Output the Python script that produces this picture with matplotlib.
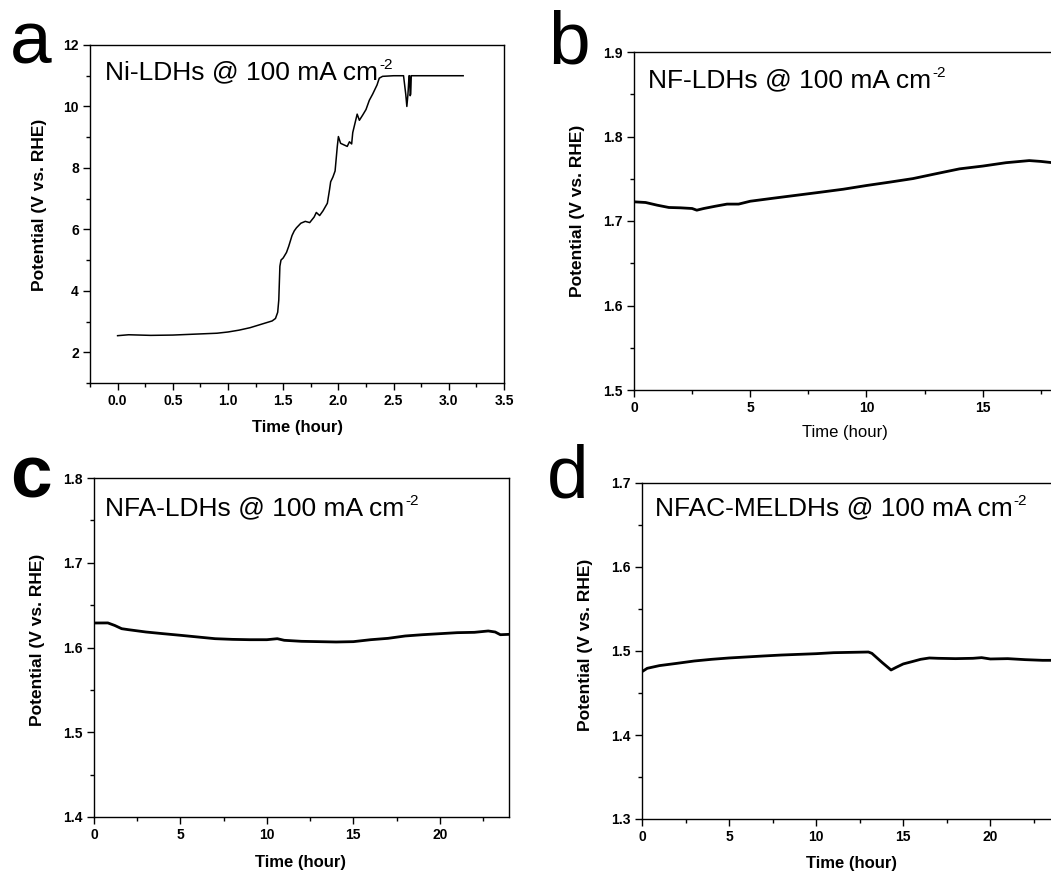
import matplotlib
matplotlib.use("Agg")
import matplotlib.pyplot as plt
from matplotlib.ticker import MultipleLocator

plt.rcParams['font.family'] = ['Liberation Sans', 'DejaVu Sans']

# ---------------- data ----------------
t_a = [0.00, 0.10, 0.30, 0.50, 0.70, 0.90, 1.00, 1.10, 1.20, 1.30, 1.40, 1.43,
       1.45, 1.46, 1.47, 1.48, 1.50, 1.53, 1.55, 1.58, 1.60, 1.62, 1.66, 1.70,
       1.74, 1.78, 1.80, 1.83, 1.86, 1.90, 1.92, 1.93, 1.95, 1.97, 1.99, 2.00,
       2.02, 2.05, 2.08, 2.10, 2.12, 2.13, 2.15, 2.17, 2.19, 2.22, 2.25, 2.28,
       2.31, 2.33, 2.35, 2.37, 2.40, 2.50, 2.59, 2.61, 2.62, 2.63, 2.64, 2.645,
       2.65, 2.655, 2.66, 2.70, 3.00, 3.13]
v_a = [2.54, 2.57, 2.55, 2.56, 2.59, 2.62, 2.66, 2.72, 2.80, 2.91, 3.02, 3.10,
       3.30, 3.70, 4.80, 5.00, 5.07, 5.25, 5.45, 5.80, 5.95, 6.05, 6.20, 6.26,
       6.22, 6.40, 6.55, 6.45, 6.60, 6.85, 7.30, 7.55, 7.70, 7.90, 8.70, 9.02,
       8.80, 8.75, 8.70, 8.85, 8.78, 9.15, 9.45, 9.75, 9.55, 9.72, 9.90, 10.20,
       10.40, 10.55, 10.70, 10.92, 10.98, 11.00, 11.00, 10.40, 10.00, 10.40, 11.00, 11.00,
       10.35, 10.40, 11.00, 11.00, 11.00, 11.00]

t_b = [0.0, 0.5, 1.0, 1.5, 2.0, 2.5, 2.7, 3.0, 3.5, 4.0, 4.5, 5.0, 6.0, 7.0,
       8.0, 9.0, 10.0, 11.0, 12.0, 13.0, 14.0, 15.0, 16.0, 17.0, 17.5, 18.0, 18.5]
v_b = [1.7227, 1.7219, 1.7187, 1.7160, 1.7156, 1.7148, 1.7128, 1.7148, 1.7175,
       1.7200, 1.7200, 1.7234, 1.7270, 1.7305, 1.7340, 1.7376, 1.7420, 1.7460,
       1.7502, 1.7560, 1.7617, 1.7650, 1.7690, 1.7715, 1.7705, 1.7690, 1.7680]

t_c = [0.0, 0.8, 1.2, 1.6, 2.0, 3.0, 4.0, 5.0, 6.0, 7.0, 8.0, 9.0, 10.0, 10.6,
       11.0, 12.0, 13.0, 14.0, 15.0, 16.0, 17.0, 18.0, 19.0, 20.0, 21.0, 22.0,
       22.8, 23.2, 23.5, 24.0]
v_c = [1.6289, 1.6290, 1.6260, 1.6222, 1.6210, 1.6183, 1.6163, 1.6144, 1.6124,
       1.6104, 1.6096, 1.6092, 1.6092, 1.6104, 1.6085, 1.6073, 1.6069, 1.6065,
       1.6069, 1.6092, 1.6108, 1.6136, 1.6151, 1.6163, 1.6175, 1.6179, 1.6195,
       1.6183, 1.6151, 1.6155]

t_d = [0.0, 0.3, 1.0, 2.0, 3.0, 4.0, 5.0, 6.0, 7.0, 8.0, 9.0, 10.0, 11.0, 12.0,
       13.0, 13.2, 13.8, 14.3, 14.6, 15.0, 15.5, 16.0, 16.5, 17.0, 18.0, 19.0,
       19.5, 20.0, 21.0, 22.0, 23.0, 24.0]
v_d = [1.4754, 1.4794, 1.4826, 1.4853, 1.4881, 1.4901, 1.4917, 1.4929, 1.4941,
       1.4952, 1.4960, 1.4968, 1.4980, 1.4984, 1.4988, 1.4972, 1.4861, 1.4774,
       1.4806, 1.4846, 1.4873, 1.4901, 1.4917, 1.4913, 1.4909, 1.4913, 1.4921,
       1.4905, 1.4909, 1.4897, 1.4889, 1.4889]

titles = ["Ni-LDHs @ 100 mA cm", "NF-LDHs @ 100 mA cm",
          "NFA-LDHs @ 100 mA cm", "NFAC-MELDHs @ 100 mA cm"]
title_sup = "-2"
panel_letters = ["a", "b", "c", "d"]
ylabel = "Potential (V vs. RHE)"
xlabel = "Time (hour)"
xticks_list = [[0, 0.5, 1.0, 1.5, 2.0, 2.5, 3.0, 3.5], [0, 5, 10, 15],
               [0, 5, 10, 15, 20], [0, 5, 10, 15, 20]]

# ---------------- figure ----------------
W, H = 1051, 875
fig = plt.figure(figsize=(W / 100, H / 100), dpi=100)
renderer = fig.canvas.get_renderer()


def px_axes(left, top, right, bottom):
    return fig.add_axes([left / W, (H - bottom) / H, (right - left) / W, (bottom - top) / H])


axes_px = [(90, 45, 504, 383), (634, 52, 1192, 390), (94, 478, 509, 817), (642, 483, 1060, 819)]
data = [(t_a, v_a), (t_b, v_b), (t_c, v_c), (t_d, v_d)]
xlims = [(-0.25, 3.5), (0, 24), (0, 24), (0, 24)]
ylims = [(1, 12), (1.5, 1.9), (1.4, 1.8), (1.3, 1.7)]
xmin = [0.25, 2.5, 2.5, 2.5]
ymin = [1, 0.05, 0.05, 0.05]
lws = [1.1, 2.0, 2.0, 2.0]
ylab_pos = [(-0.123, 0.527), (-0.102, 0.53), (-0.137, 0.522), (-0.136, 0.518)]
xlab_pos = [(0.5, -0.133), (0.378, -0.127), (0.497, -0.133), (0.5, -0.131)]
xlab_bold = [True, False, True, True]
letter_pos = [(10, 63), (548, 63), (10, 498), (547, 498)]
letter_bold = [False, False, True, False]
title_pos = [(105, 79), (648, 87), (105, 515), (655, 515)]

for i, ax in enumerate([px_axes(*p) for p in axes_px]):
    t, v = data[i]
    ax.plot(t, v, color='black', lw=lws[i])
    ax.set_xlim(*xlims[i])
    ax.set_ylim(*ylims[i])
    ax.xaxis.set_minor_locator(MultipleLocator(xmin[i]))
    ax.yaxis.set_minor_locator(MultipleLocator(ymin[i]))
    ax.tick_params(which='major', direction='out', length=5, width=1, labelsize=10,
                   top=False, right=False, pad=3)
    ax.tick_params(which='minor', direction='out', length=3, width=1,
                   top=False, right=False)
    xt = xticks_list[i]
    ax.set_xticks(xt)
    if i == 0:
        ax.set_xticklabels([f"{x:.1f}" for x in xt], fontweight='bold')
        yt = [2, 4, 6, 8, 10, 12]
        ax.set_yticks(yt)
        ax.set_yticklabels([str(y) for y in yt], fontweight='bold')
    else:
        ax.set_xticklabels([str(x) for x in xt], fontweight='bold')
        yt = [round(ylims[i][0] + 0.1 * k, 1) for k in range(5)]
        ax.set_yticks(yt)
        ax.set_yticklabels([f"{y:.1f}" for y in yt], fontweight='bold')
    for s in ax.spines.values():
        s.set_linewidth(1.0)
    ax.set_ylabel(ylabel, fontsize=12.5, fontweight='bold', va='center')
    ax.yaxis.set_label_coords(*ylab_pos[i])
    ax.set_xlabel(xlabel, fontsize=12, fontweight='bold' if xlab_bold[i] else 'normal',
                  va='center')
    ax.xaxis.set_label_coords(*xlab_pos[i])

    lx, ly = letter_pos[i]
    fig.text(lx / W, 1 - ly / H, panel_letters[i], fontsize=54,
             fontweight='bold' if letter_bold[i] else 'normal', va='baseline', ha='left')
    tx, ty = title_pos[i]
    tt = fig.text(tx / W, 1 - ty / H, titles[i], fontsize=19, va='baseline', ha='left')
    bb = tt.get_window_extent(renderer)
    fig.text((bb.x1 + 1) / W, 1 - (ty - 10) / H, title_sup, fontsize=11,
             va='baseline', ha='left')

fig.savefig("out.png", dpi=100)
